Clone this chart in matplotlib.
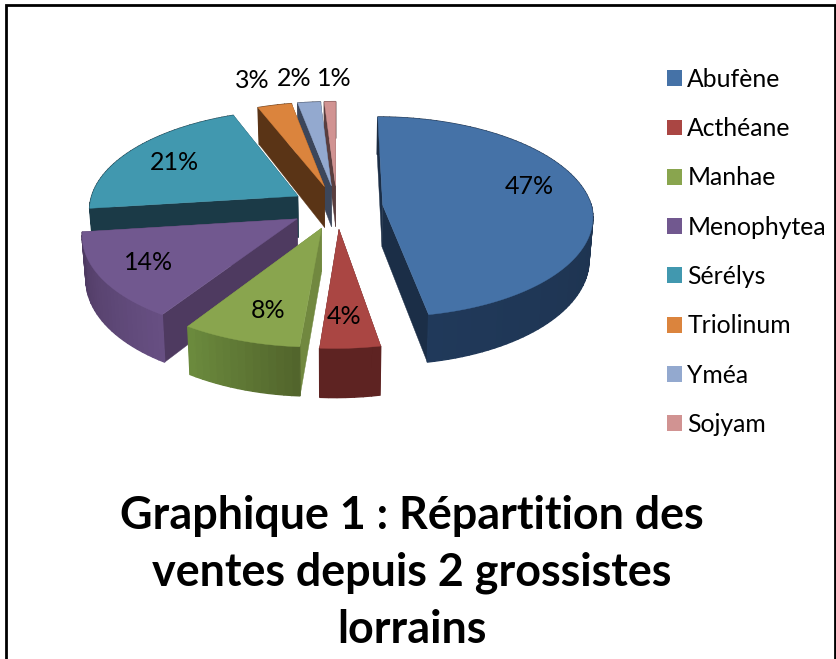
import numpy as np
import matplotlib
matplotlib.use('Agg')
import matplotlib.pyplot as plt
from matplotlib.patches import Polygon, Patch
from matplotlib.colors import to_rgb

plt.rcParams['font.family'] = ['Lato', 'DejaVu Sans']

# data
names = ['Abufène', 'Acthéane', 'Manhae', 'Menophytea', 'Sérélys', 'Triolinum', 'Yméa', 'Sojyam']
values = [47, 4, 8, 14, 21, 3, 2, 1]

# colours: top face, radial wall, outer wall left/right
top_colors = ['#4572a7', '#aa4643', '#89a54e', '#71588f', '#4198af', '#db843d', '#93a9cf', '#d19392']
wall_colors = ['#1b2e47', '#5a2120', '#71883f', '#4e3a60', '#1b3a47', '#5a3416', '#3c465a', '#5a3e3e']
outer_a = ['#1b2c42', '#5e2322', '#52652c', '#674f82', '#1b3a47', '#5a3416', '#3c465a', '#5a3e3e']
outer_b = ['#20395a', '#5e2322', '#6b8a3d', '#4e3a62', '#1b3a47', '#5a3416', '#3c465a', '#5a3e3e']

# pie layout in pixels
cx, cy = 337, 207
rx, ry = 209, 99
persp = 0.12
shear = 4.5
explode = 0.22
height = 42

# painter's order, back slices first
draw_order = [7, 6, 5, 0, 4, 3, 2, 1]

# data labels, centre of text in pixels
label_x = [529, 344, 268, 149, 174, 252, 294, 334]
label_y = [186, 317, 311, 263, 162, 81, 78, 78]


def project(th, r, b, z=0.0):
    # th clockwise from 12 o'clock, b = bisector of the slice for the explosion
    u = r * np.sin(th) + explode * np.sin(b)
    v = r * np.cos(th) + explode * np.cos(b)
    s = 1 / (1 + persp * v)
    x = cx + rx * u * s * (1 - 0.015 * z) + shear * np.minimum(v, 0)
    y = cy - ry * v * s + height * s * z
    return x, y


fig = plt.figure(figsize=(8.36, 6.59), dpi=100)
ax = fig.add_axes([0, 0, 1, 1])
ax.set_xlim(0, 836)
ax.set_ylim(659, 0)
ax.axis('off')

# frame of the pasted picture, no bottom line
ax.plot([6, 6, 834.5, 834.5], [659, 5, 5, 659], color='black', lw=2, solid_joinstyle='miter')

edges = np.cumsum([0] + values) / sum(values) * 2 * np.pi

for i in draw_order:
    t0, t1 = edges[i], edges[i + 1]
    b = (t0 + t1) / 2
    th = np.linspace(t0, t1, max(4, int(values[i] * 2)))
    xa, ya = project(0, 0, b)
    xb, yb = project(0, 0, b, 1)

    # radial walls
    for t in (t0, t1):
        x0, y0 = project(t, 1, b)
        x1, y1 = project(t, 1, b, 1)
        ax.add_patch(Polygon([(xa, ya), (x0, y0), (x1, y1), (xb, yb)],
                             fc=wall_colors[i], ec=wall_colors[i], lw=0.3))

    # outer wall, strips for the shading
    ca, cb = np.array(to_rgb(outer_a[i])), np.array(to_rgb(outer_b[i]))
    xt, yt = project(th, 1, b)
    xl, yl = project(th, 1, b, 1)
    for k in range(len(th) - 1):
        c = ca + (cb - ca) * k / max(1, len(th) - 2)
        ax.add_patch(Polygon([(xt[k], yt[k]), (xt[k + 1], yt[k + 1]), (xl[k + 1], yl[k + 1]), (xl[k], yl[k])],
                             fc=c, ec=c, lw=1.0))

    # top face
    pts = [(xa, ya)] + list(zip(xt, yt))
    ax.add_patch(Polygon(pts, fc=top_colors[i], ec=top_colors[i], lw=0.3))

for i in range(len(values)):
    ax.text(label_x[i], label_y[i], f'{values[i]}%', fontsize=18, color='black', ha='center', va='center')

handles = [Patch(fc=c, ec='none') for c in top_colors]
ax.legend(handles, names, loc='upper left', bbox_to_anchor=(658 / 836, 1 - 58.5 / 659), frameon=False,
          fontsize=17.8, handlelength=0.61, handleheight=0.61, handletextpad=0.2,
          labelspacing=1.063, borderpad=0.38, borderaxespad=0)

title_lines = ['Graphique 1 : Répartition des', 'ventes depuis 2 grossistes', 'lorrains']
title_base = [529, 586, 643]
for line, y in zip(title_lines, title_base):
    ax.text(412, y, line, fontsize=32.3, fontweight='bold', ha='center', va='baseline', color='black')

fig.savefig('out.png', dpi=100)
